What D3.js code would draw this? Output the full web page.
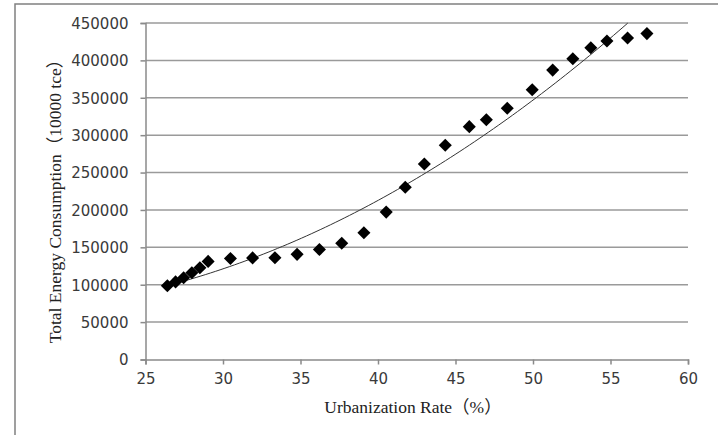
<!DOCTYPE html>
<html>
<head>
<script src="https://d3js.org/d3.v7.min.js"></script>
  <style type="text/css">
    body {
      margin: 0;
      background: #fff;
    }
    .tick text {
      font-family: "DejaVu Sans", sans-serif;
      font-size: 15px;
      fill: #3a3a3a;
    }
    .title {
      font-family: "Liberation Serif", "Times New Roman", "Noto Sans CJK SC", serif;
      font-size: 17.5px;
      fill: #222;
    }
  </style>
</head>
<body>
<script type="text/javascript">

  // urbanization rate (%) and total energy consumption (10000 tce)
  var urbanRate = [26.41, 26.94, 27.46, 27.99, 28.51, 29.04, 30.48, 31.91, 33.35, 34.78,
                   36.22, 37.66, 39.09, 40.53, 41.76, 42.99, 44.34, 45.89, 46.99, 48.34,
                   49.95, 51.27, 52.57, 53.73, 54.77, 56.10, 57.35];
  var energy = [98700, 103800, 109200, 116000, 122700, 131200, 135200, 135900, 136200, 140600,
                147000, 155500, 169600, 197100, 230300, 261400, 286500, 311400, 320600, 336100,
                360600, 387000, 402100, 416900, 425800, 429900, 435800];
  var xTicks = [25, 30, 35, 40, 45, 50, 55, 60];
  var yTicks = [0, 50000, 100000, 150000, 200000, 250000, 300000, 350000, 400000, 450000];

  var width = 718, height = 435;
  var margin = {top: 23, left: 145.5, right: 30, bottom: 75.5};

  var svg = d3.select("body").append("svg")
      .attr("width", width)
      .attr("height", height);

  // outer chart frame (only top/left edges visible)
  svg.append("rect")
      .attr("x", 15).attr("y", 4)
      .attr("width", width + 20).attr("height", height + 20)
      .attr("fill", "none")
      .attr("stroke", "#808080")
      .attr("stroke-width", 1.5);

  var x = d3.scaleLinear().domain([25, 60]).range([margin.left, width - margin.right]);
  var y = d3.scaleLinear().domain([0, 450000]).range([height - margin.bottom, margin.top]);

  // gridlines
  svg.append("g").selectAll("line")
      .data(yTicks.slice(1))
    .enter().append("line")
      .attr("x1", x(25)).attr("x2", x(60))
      .attr("y1", function(d) { return y(d); })
      .attr("y2", function(d) { return y(d); })
      .attr("stroke", "#9a9a9a")
      .attr("stroke-width", 1.5);

  var xAxis = svg.append("g")
      .attr("transform", "translate(0," + y(0) + ")")
      .call(d3.axisBottom(x).tickValues(xTicks).tickSize(5).tickPadding(9));

  var yAxis = svg.append("g")
      .attr("transform", "translate(" + x(25) + ",0)")
      .call(d3.axisLeft(y).tickValues(yTicks).tickSize(5).tickPadding(12).tickFormat(d3.format("d")));

  [xAxis, yAxis].forEach(function(ax) {
    ax.select(".domain").attr("stroke", "#8a8a8a").attr("stroke-width", 1.5);
    ax.selectAll(".tick line").attr("stroke", "#8a8a8a").attr("stroke-width", 1.5);
  });
  yAxis.selectAll(".tick text").attr("dy", "0.36em");

  // polynomial (order 2) trendline, least squares on the points
  function quadFit(xs, ys) {
    var n = xs.length, s = [0, 0, 0, 0, 0], t = [0, 0, 0];
    for (var i = 0; i < n; i++) {
      var p = 1;
      for (var k = 0; k < 5; k++) { s[k] += p; if (k < 3) t[k] += p * ys[i]; p *= xs[i]; }
    }
    var A = [[s[0], s[1], s[2], t[0]], [s[1], s[2], s[3], t[1]], [s[2], s[3], s[4], t[2]]];
    for (var c = 0; c < 3; c++) {
      for (var r = c + 1; r < 3; r++) {
        var f = A[r][c] / A[c][c];
        for (var j = c; j < 4; j++) A[r][j] -= f * A[c][j];
      }
    }
    var b = [0, 0, 0];
    for (var r2 = 2; r2 >= 0; r2--) {
      var v = A[r2][3];
      for (var j2 = r2 + 1; j2 < 3; j2++) v -= A[r2][j2] * b[j2];
      b[r2] = v / A[r2][r2];
    }
    return function(v) { return b[0] + b[1] * v + b[2] * v * v; };
  }
  var fit = quadFit(urbanRate, energy);
  var x0 = d3.min(urbanRate), x1 = d3.max(urbanRate);
  var trend = d3.range(0, 101).map(function(i) {
    var v = x0 + (x1 - x0) * i / 100;
    return [v, fit(v)];
  }).filter(function(d) { return d[1] <= 450000; });

  svg.append("path")
      .datum(trend)
      .attr("fill", "none")
      .attr("stroke", "#333")
      .attr("stroke-width", 1)
      .attr("d", d3.line()
        .x(function(d) { return x(d[0]); })
        .y(function(d) { return y(d[1]); }));

  // diamond markers
  svg.append("g").selectAll("path")
      .data(urbanRate)
    .enter().append("path")
      .attr("d", d3.symbol().type(d3.symbolSquare).size(85))
      .attr("transform", function(d, i) {
        return "translate(" + x(d) + "," + y(energy[i]) + ") rotate(45)";
      })
      .attr("fill", "#000");

  // axis titles
  svg.append("text")
      .attr("class", "title")
      .attr("text-anchor", "middle")
      .attr("transform", "translate(55,197) rotate(-90)")
      .attr("dy", "0.35em")
      .text("Total Energy Consumption（10000 tce）");

  svg.append("text")
      .attr("class", "title")
      .attr("text-anchor", "middle")
      .attr("x", 413)
      .attr("y", 413)
      .text("Urbanization Rate（%）");

</script>
</body>
</html>
